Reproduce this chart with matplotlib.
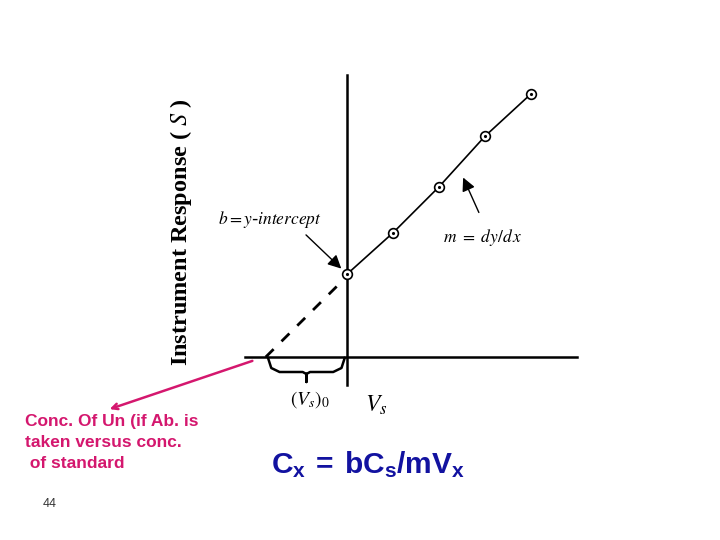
import matplotlib
matplotlib.use('Agg')
import matplotlib.pyplot as plt
import numpy as np

# standard additions: volume of standard added vs instrument response
vs = [0, 1, 2, 3, 4]
response = [1.80, 2.70, 3.70, 4.80, 5.72]

ylabel = 'Instrument Response ( $S$ )'
b_label = '$b = y$-$intercept$'
m_label = r'$m\ =\ dy/d\,x$'
note = 'Conc. Of Un (if Ab. is\ntaken versus conc.\n of standard'
formula = r'$\mathbf{C_x\,=\,bC_s/mV_x}$'
page_no = '44'

pink = '#d4176e'
blue = '#1212a0'

plt.rcParams['mathtext.fontset'] = 'custom'
plt.rcParams['mathtext.rm'] = 'Liberation Sans'
plt.rcParams['mathtext.bf'] = 'Liberation Sans:bold'

W, H = 720, 540
ox, oy, scale = 347, 357, 46.0   # pixel position of origin, px per unit

fig = plt.figure(figsize=(7.2, 5.4), dpi=100)
ax = fig.add_axes([0, 0, 1, 1])
ax.set_xlim(-ox / scale, (W - ox) / scale)
ax.set_ylim((oy - H) / scale, oy / scale)
ax.axis('off')


def fx(px):
    return px / W


def fy(py):
    return 1 - py / H


def d2x(px):
    return (px - ox) / scale


def d2y(py):
    return (oy - py) / scale


# fit of the standard-addition line
m, b = np.polyfit(vs, response, 1)
x0 = -b / m

# axes
ax.plot([0, 0], [d2y(385), d2y(75)], color='black', lw=1.8, zorder=1)
ax.plot([d2x(245), d2x(577)], [0, 0], color='black', lw=1.8, zorder=1)

# measured line and extrapolation
ax.plot(vs, response, color='black', lw=1.2, zorder=2)
ax.plot([x0, 0], [0, b], color='black', lw=2, ls=(0, (4, 4)), zorder=2)
ax.plot(vs, response, ls='', marker='o', ms=7, mfc='white', mec='black',
        mew=1.2, zorder=3)
ax.plot(vs, response, ls='', marker='.', ms=2.5, color='black', zorder=4)

# brace under the extrapolated segment
bx = np.array([x0 + 0.05, x0 + 0.12, x0 + 0.3, x0 / 2 - 0.08, x0 / 2,
               x0 / 2, x0 / 2, x0 / 2 + 0.08, -0.3, -0.12, -0.05])
by = np.array([d2y(358), d2y(368), d2y(372), d2y(372), d2y(374),
               d2y(382), d2y(374), d2y(372), d2y(372), d2y(368), d2y(358)])
ax.plot(bx, by, color='black', lw=1.8)

# y label
fig.text(fx(181), fy(232), ylabel, rotation=90, ha='center', va='center',
         fontsize=17.5, fontweight='bold', family='Liberation Serif',
         math_fontfamily='stix')

# annotations
ax.annotate('', xy=(vs[0] - 0.08, response[0] + 0.08),
            xytext=(d2x(304), d2y(233)),
            arrowprops=dict(arrowstyle='-|>', color='black', lw=1,
                            mutation_scale=20))
fig.text(fx(270), fy(220), b_label, ha='center', va='center', fontsize=12.5,
         math_fontfamily='stix')

ax.annotate('', xy=(d2x(462), d2y(175)), xytext=(d2x(480), d2y(215)),
            arrowprops=dict(arrowstyle='-|>', color='black', lw=1,
                            mutation_scale=20))
fig.text(fx(483), fy(237), m_label, ha='center', va='center', fontsize=12.5,
         math_fontfamily='stix')

fig.text(fx(310), fy(400), '$(V_s)_0$', ha='center', va='center',
         fontsize=14, math_fontfamily='stix')
fig.text(fx(376), fy(405), '$V_s$', ha='center', va='center',
         fontsize=17, math_fontfamily='stix')

# pink note with arrow to the x-intercept
ax.annotate('', xy=(d2x(107), d2y(410)), xytext=(d2x(255), d2y(360)),
            arrowprops=dict(arrowstyle='->', color=pink, lw=1.8,
                            mutation_scale=10))
fig.text(fx(25), fy(414), note, ha='left', va='top', fontsize=12.5,
         fontweight='bold', color=pink, family='Liberation Sans',
         linespacing=1.5)

fig.text(fx(271), fy(465), formula, ha='left', va='center', fontsize=21.5,
         color=blue, math_fontfamily='custom')

fig.text(fx(43), fy(504), page_no, ha='left', va='center', fontsize=9,
         color='#333333', family='Liberation Sans')

fig.savefig('out.png', dpi=100)
